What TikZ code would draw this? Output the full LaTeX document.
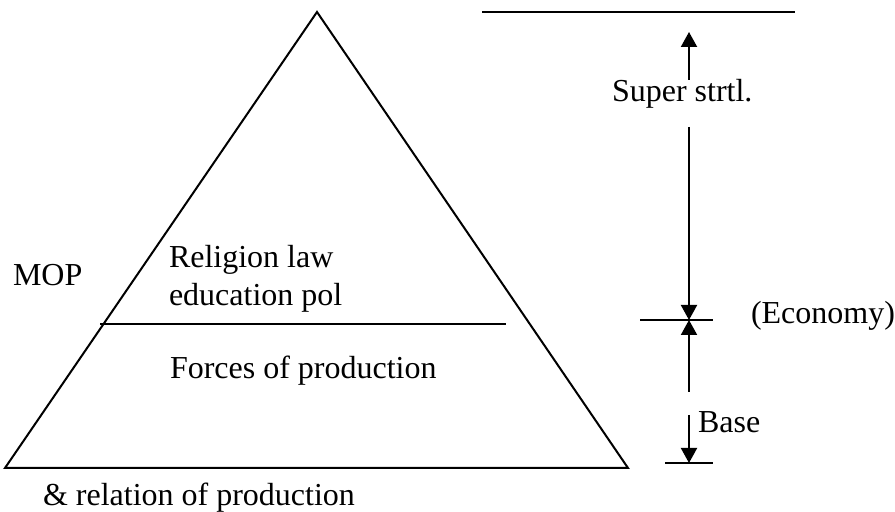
\documentclass[tikz,border=0pt]{standalone}
\usepackage{fontspec}
\setmainfont{Liberation Serif}
\usetikzlibrary{arrows.meta}

\begin{document}
\begin{tikzpicture}[
    x=0.5pt, y=-0.5pt,
    line width=1pt,
    label/.style={anchor=base west, inner sep=0pt, font=\fontsize{16}{19}\selectfont},
    level/.style={-{Triangle[width=8pt, length=7.5pt]}}
]
\useasboundingbox (0,0) rectangle (895,512);

% Pyramid
\coordinate (apex) at (317,12);
\coordinate (bl) at (5,468);
\coordinate (br) at (628,468);
\draw[line join=miter] (apex) -- (bl) -- (br) -- cycle;

\coordinate (divL) at (100,324);
\coordinate (divR) at (506,324);
\draw (divL) -- (divR);

% Pyramid labels
\node[label] (mop) at (12,286) {MOP};
\node[label] (relig) at (168,268) {Religion law};
\node[label] (educ) at (168,306) {education pol};
\node[label] (forces) at (169,379) {Forces of production};
\node[label] (rel) at (42,506) {\& relation of production};

% Scale lines
\coordinate (topL) at (482,12);
\coordinate (topR) at (795,12);
\draw (topL) -- (topR);

\coordinate (ecoL) at (640,320);
\coordinate (ecoR) at (713,320);
\draw (ecoL) -- (ecoR);

\coordinate (botL) at (665,463);
\coordinate (botR) at (713,463);
\draw (botL) -- (botR);

% Scale labels
\node[label] (super) at (611,102) {Super strtl.};
\node[label] (econ) at (750,324) {(Economy)};
\node[label] (base) at (697,433) {Base};

% Level arrows
\coordinate (s1) at (689,80);
\coordinate (s1tip) at (689,32);
\coordinate (s2) at (689,127);
\coordinate (mid) at (689,320);
\coordinate (b1) at (689,392);
\coordinate (b2) at (689,415);
\coordinate (b2tip) at (689,463);

\draw[level] (s1) -- (s1tip);
\draw[level] (s2) -- (mid);
\draw[level] (b1) -- (mid);
\draw[level] (b2) -- (b2tip);

\end{tikzpicture}
\end{document}
